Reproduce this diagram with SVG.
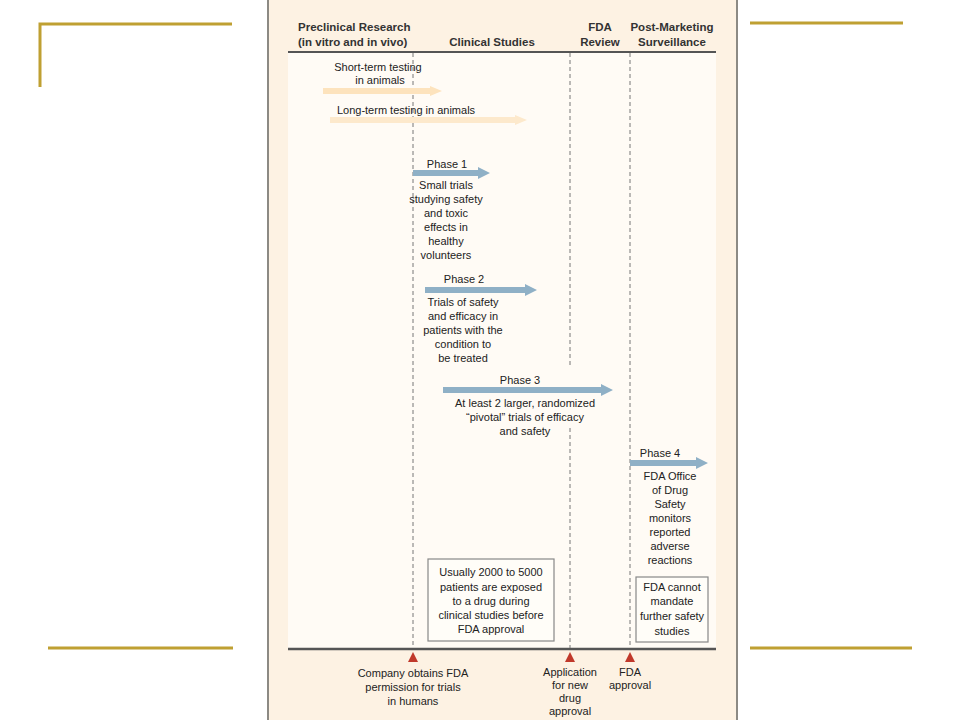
<svg xmlns="http://www.w3.org/2000/svg" width="960" height="720" viewBox="0 0 960 720">
<defs>
<style>
.gold{stroke:#bfa032;stroke-width:3;fill:none}
.hd{font-family:"Liberation Sans",Arial,sans-serif;font-weight:bold;font-size:11.5px;fill:#333}
.t{font-family:"Liberation Sans",Arial,sans-serif;font-size:11px;fill:#222;text-anchor:middle}
.dash{stroke:#777;stroke-width:1;stroke-dasharray:4,3;fill:none}
.box{fill:#fffdf8;stroke:#888;stroke-width:1.2}
.tri{fill:#c0392b}
</style>
</defs>
<rect width="960" height="720" fill="#ffffff"/>
<g id="frame-lines">
<polyline class="gold" points="40,87 40,24 232,24"/>
<line class="gold" x1="750" y1="23" x2="903" y2="23"/>
<line class="gold" x1="48" y1="648" x2="233" y2="648"/>
<line class="gold" x1="750" y1="648" x2="912" y2="648"/>
</g>
<g id="panel">
<rect x="268" y="-2" width="469" height="724" fill="#fdf2e3" stroke="#8c8a84" stroke-width="2"/>
<rect x="288" y="52" width="428" height="597" fill="#fffbf5"/>
<line x1="288" y1="52" x2="716" y2="52" stroke="#555" stroke-width="2"/>
<line x1="288" y1="649" x2="716" y2="649" stroke="#555" stroke-width="2.5"/>
</g>
<g id="headers">
<text class="hd" x="298" y="31">Preclinical Research</text>
<text class="hd" x="298" y="46">(in vitro and in vivo)</text>
<text class="hd" x="492" y="46" text-anchor="middle">Clinical Studies</text>
<text class="hd" x="600" y="31" text-anchor="middle">FDA</text>
<text class="hd" x="600" y="46" text-anchor="middle">Review</text>
<text class="hd" x="672" y="31" text-anchor="middle">Post-Marketing</text>
<text class="hd" x="672" y="46" text-anchor="middle">Surveillance</text>
</g>
<g id="connectors">
<line class="dash" x1="413" y1="53" x2="413" y2="648"/>
<line class="dash" x1="570" y1="53" x2="570" y2="365"/>
<line class="dash" x1="570" y1="428" x2="570" y2="648"/>
<line class="dash" x1="630" y1="53" x2="630" y2="648"/>
</g>
<g id="short-term">
<text class="t" x="378" y="71">Short-term testing</text>
<text class="t" x="380" y="84">in animals</text>
<polygon points="323,88 430,88 430,86 442,91 430,96 430,94 323,94" fill="#fde3bd"/>
</g>
<g id="long-term">
<text class="t" x="406" y="114">Long-term testing in animals</text>
<polygon points="330,117 515,117 515,115 527,120 515,125 515,123 330,123" fill="#fde9cc"/>
</g>
<g id="phase1">
<text class="t" x="447" y="168">Phase 1</text>
<polygon points="413,170 478,170 478,167 490,173 478,179 478,176 413,176" fill="#8fb0c6"/>
<text class="t" x="446" y="189">Small trials</text>
<text class="t" x="446" y="203">studying safety</text>
<text class="t" x="446" y="217">and toxic</text>
<text class="t" x="446" y="231">effects in</text>
<text class="t" x="446" y="245">healthy</text>
<text class="t" x="446" y="259">volunteers</text>
</g>
<g id="phase2">
<text class="t" x="464" y="283">Phase 2</text>
<polygon points="425,287 525,287 525,284 537,290 525,296 525,293 425,293" fill="#8fb0c6"/>
<text class="t" x="463" y="306">Trials of safety</text>
<text class="t" x="463" y="320">and efficacy in</text>
<text class="t" x="463" y="334">patients with the</text>
<text class="t" x="463" y="348">condition to</text>
<text class="t" x="463" y="362">be treated</text>
</g>
<g id="phase3">
<text class="t" x="520" y="384">Phase 3</text>
<polygon points="443,387 601,387 601,384 613,390 601,396 601,393 443,393" fill="#8fb0c6"/>
<text class="t" x="525" y="407">At least 2 larger, randomized</text>
<text class="t" x="525" y="421">“pivotal” trials of efficacy</text>
<text class="t" x="525" y="435">and safety</text>
</g>
<g id="phase4">
<text class="t" x="660" y="457">Phase 4</text>
<polygon points="630,460 696,460 696,457 708,463 696,469 696,466 630,466" fill="#8fb0c6"/>
<text class="t" x="670" y="480">FDA Office</text>
<text class="t" x="670" y="494">of Drug</text>
<text class="t" x="670" y="508">Safety</text>
<text class="t" x="670" y="522">monitors</text>
<text class="t" x="670" y="536">reported</text>
<text class="t" x="670" y="550">adverse</text>
<text class="t" x="670" y="564">reactions</text>
</g>
<g id="box-cannot">
<rect class="box" x="636" y="577" width="72" height="65"/>
<text class="t" x="672" y="591">FDA cannot</text>
<text class="t" x="672" y="605">mandate</text>
<text class="t" x="672" y="620">further safety</text>
<text class="t" x="672" y="635">studies</text>
</g>
<g id="box-patients">
<rect class="box" x="428" y="559" width="126" height="82"/>
<text class="t" x="491" y="576">Usually 2000 to 5000</text>
<text class="t" x="491" y="591">patients are exposed</text>
<text class="t" x="491" y="605">to a drug during</text>
<text class="t" x="491" y="619">clinical studies before</text>
<text class="t" x="491" y="633">FDA approval</text>
</g>
<g id="milestone-permission">
<polygon class="tri" points="413,652 408,662 418,662"/>
<text class="t" x="413" y="677">Company obtains FDA</text>
<text class="t" x="413" y="691">permission for trials</text>
<text class="t" x="413" y="705">in humans</text>
</g>
<g id="milestone-application">
<polygon class="tri" points="570,652 565,662 575,662"/>
<text class="t" x="570" y="676">Application</text>
<text class="t" x="570" y="689">for new</text>
<text class="t" x="570" y="702">drug</text>
<text class="t" x="570" y="715">approval</text>
</g>
<g id="milestone-approval">
<polygon class="tri" points="630,652 625,662 635,662"/>
<text class="t" x="630" y="676">FDA</text>
<text class="t" x="630" y="689">approval</text>
</g>
</svg>
